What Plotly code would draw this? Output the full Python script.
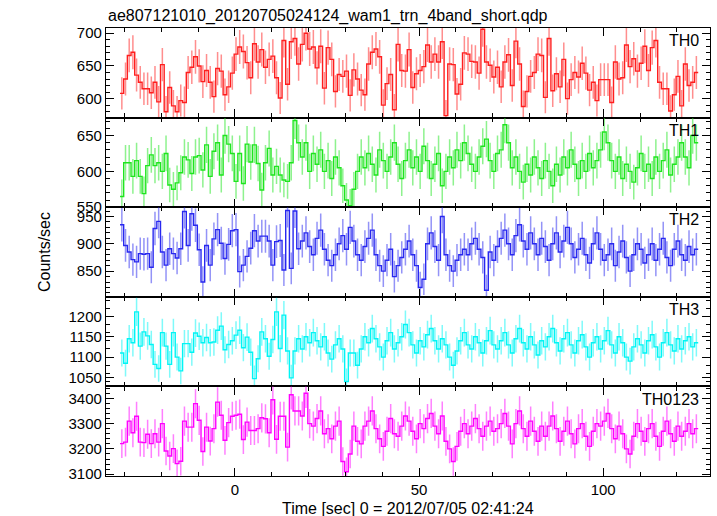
import numpy as np
import plotly.graph_objects as go
from plotly.subplots import make_subplots

title = "ae807121010_20120705024124_wam1_trn_4band_short.qdp"
x_title = "Time [sec] 0 = 2012/07/05 02:41:24"
y_title = "Counts/sec"
panel_names = ["TH0", "TH1", "TH2", "TH3", "TH0123"]

bin_start = -31.2   # left edge of first 1-s bin
bin_width = 1.0

th0 = [608, 630, 666, 671, 636, 625, 615, 615, 609, 625, 595, 652, 580, 617, 589, 580, 597, 594, 640, 648,
       664, 650, 626, 643, 625, 603, 646, 642, 606, 618, 639, 668, 679, 672, 655, 632, 684, 656, 675, 648,
       660, 665, 632, 601, 689, 622, 687, 692, 653,
       683, 700, 676, 679, 647, 680, 616, 678, 660, 611, 637, 634, 642, 605, 644, 630, 613, 606, 653, 671,
       676, 664, 590, 623, 637, 583, 683, 643, 642, 675, 617, 638, 643, 649, 682, 656, 668, 656, 687, 574,
       653, 652, 607, 622, 670, 668, 657, 656, 639, 706, 656, 651, 633, 648,
       618, 656, 667, 620, 688, 653, 588, 611, 634, 640, 668, 666, 602, 692, 612, 638, 618, 660, 600, 629,
       640, 633, 654, 639, 613, 625, 597, 629, 629, 629, 594, 656, 630, 632, 682, 649, 661, 642, 654, 680,
       643, 678, 689, 625, 615, 615, 581, 606, 634, 589, 653, 620, 625, 640]

th1 = [565, 612, 612, 593, 615, 593, 569, 608, 623, 608, 612, 600, 625, 581, 575, 584, 598, 620, 616, 597,
       620, 622, 602, 637, 593, 628, 640, 595, 650, 638, 625, 586, 625, 583, 638, 613, 637, 611, 574, 612,
       632, 595, 607, 595, 588, 586, 612, 671, 640,
       620, 640, 600, 625, 610, 630, 600, 615, 590, 620, 605, 580, 560, 552, 575, 600, 620,
       605, 625, 610, 595, 630, 615, 600, 620, 640, 610, 590, 615, 630, 605, 620, 600, 635, 615, 590, 610, 625,
       580, 600, 620, 605, 630, 615, 640, 625, 610, 600, 620, 635, 645, 615, 600, 625,
       630, 665, 640, 605, 620, 600, 585, 610, 595, 620, 605, 590, 615, 600, 580, 610,
       595, 620, 605, 630, 610, 590, 615, 600, 625, 605, 615, 630, 655, 640, 615, 600, 620, 590, 610, 600, 585,
       605, 625, 600, 610, 590, 620, 600, 615, 630, 595, 610, 620, 640, 620, 605, 650, 640]

th2 = [935, 897, 885, 871, 867, 882, 881, 882, 857, 928, 941, 885, 861, 891, 882, 874, 891, 959, 897, 955,
       934, 889, 830, 897, 861, 909, 926, 901, 873, 899, 924, 926, 849, 861, 877, 892, 924, 905, 914, 914,
       905, 861, 904, 906, 852, 961, 855, 960, 891,
       905, 920, 895, 880, 910, 925, 890, 870, 860, 880, 900, 915,
       890, 930, 905, 880, 870, 895, 910, 925, 880, 860, 850, 870, 890, 840, 860,
       875, 890, 905, 880, 860, 820, 835, 900, 920, 895, 870, 950,
       880, 860, 850, 870, 880, 890, 880, 900, 910, 890, 875, 815, 885, 870, 895,
       910, 925, 900, 880, 915, 935, 905, 890, 920, 900, 880, 910,
       895, 870, 900, 920, 885, 905, 930, 900, 875, 890, 910, 880, 865, 900, 920,
       890, 870, 880, 900, 860, 885, 905, 875, 850, 880, 900, 890,
       865, 880, 900, 870, 890, 910, 875, 860, 890, 905, 880, 870, 895, 880, 890]

th3 = [1110, 1085, 1145, 1135, 1211, 1127, 1162, 1152, 1131, 1082, 1072, 1160, 1127, 1082, 1160, 1100, 1066,
       1133, 1133, 1112, 1159, 1151, 1135, 1148, 1135, 1137, 1166, 1176, 1118, 1131, 1140, 1154, 1166, 1123,
       1149, 1112, 1047, 1096, 1162, 1145, 1102, 1143, 1211, 1121, 1203, 1115, 1049, 1115, 1145,
       1120, 1150, 1135, 1160, 1140, 1125, 1150, 1110, 1095, 1130, 1145, 1120,
       1040, 1110, 1110, 1080, 1120, 1150, 1135, 1170, 1145, 1125, 1100, 1140, 1160, 1120, 1135,
       1150, 1180, 1160, 1130, 1110, 1140, 1125, 1155, 1170, 1140, 1120, 1145,
       1130, 1100, 1080, 1115, 1140, 1160, 1130, 1120, 1150, 1135, 1110, 1140, 1165, 1130, 1120,
       1140, 1160, 1130, 1110, 1145, 1170, 1135, 1120, 1150, 1130, 1105, 1140,
       1125, 1150, 1170, 1135, 1115, 1145, 1160, 1130, 1110, 1140, 1155, 1125, 1100, 1135, 1150,
       1120, 1140, 1165, 1130, 1110, 1150, 1135, 1100, 1090, 1125, 1145, 1130,
       1110, 1140, 1155, 1125, 1100, 1135, 1160, 1130, 1115, 1145, 1120, 1140, 1150, 1125, 1135]

th0123 = [3221, 3227, 3310, 3264, 3329, 3227, 3225, 3258, 3221, 3260, 3227, 3300, 3192, 3172, 3201, 3142,
          3151, 3310, 3286, 3286, 3379, 3313, 3190, 3286, 3231, 3280, 3385, 3333, 3234, 3304, 3329, 3333,
          3337, 3237, 3306, 3273, 3273, 3280, 3323, 3319, 3264, 3394, 3238, 3329, 3329, 3207, 3414, 3350, 3350,
          3330, 3420, 3300, 3290, 3320, 3350, 3260, 3280, 3240, 3290, 3310, 3150,
          3110, 3180, 3290, 3230, 3220, 3290, 3310, 3350, 3280, 3240, 3210, 3270, 3320, 3260, 3250,
          3290, 3330, 3310, 3270, 3240, 3300, 3280, 3320, 3340, 3290, 3260, 3330,
          3230, 3200, 3150, 3210, 3270, 3300, 3260, 3290, 3320, 3280, 3250, 3290, 3310, 3270, 3280,
          3300, 3340, 3290, 3220, 3300, 3350, 3280, 3250, 3310, 3270, 3230, 3290,
          3250, 3290, 3330, 3280, 3230, 3270, 3310, 3260, 3220, 3280, 3300, 3250, 3210, 3270, 3300,
          3290, 3310, 3340, 3280, 3240, 3290, 3260, 3200, 3180, 3250, 3300, 3270,
          3230, 3280, 3300, 3250, 3210, 3270, 3310, 3260, 3230, 3290, 3250, 3270, 3300, 3260, 3280]

series = [th0, th1, th2, th3, th0123]
colors = ["rgb(255,30,30)", "rgb(30,230,30)", "rgb(40,40,240)", "rgb(0,245,245)", "rgb(255,0,255)"]
err_colors = ["rgba(255,30,30,0.5)", "rgba(30,230,30,0.5)", "rgba(40,40,240,0.5)",
              "rgba(0,245,245,0.5)", "rgba(255,0,255,0.5)"]
y_ranges = [[571, 708], [550, 675], [803, 967], [1028, 1248], [3093, 3447]]
y_dticks = [50, 50, 50, 50, 100]
y_minor = [10, 10, 10, 20, 20]
x_range = [-35, 129]

FONT = "Liberation Sans, Arial, Helvetica, sans-serif"

fig = make_subplots(rows=5, cols=1, shared_xaxes=True, vertical_spacing=0)

for i, vals in enumerate(series):
    vals = np.asarray(vals, dtype=float)
    n = len(vals)
    edges = bin_start + bin_width * np.arange(n + 1)
    centers = edges[:-1] + bin_width / 2
    errs = np.sqrt(vals)
    # error bars
    fig.add_trace(go.Scatter(
        x=centers, y=vals, mode="markers", marker=dict(size=0.1, color=colors[i], opacity=0),
        error_y=dict(type="data", array=errs, visible=True, color=err_colors[i], thickness=1.5, width=0),
        showlegend=False, hoverinfo="skip"), row=i + 1, col=1)
    # step histogram
    fig.add_trace(go.Scatter(
        x=edges, y=np.append(vals, vals[-1]), mode="lines", line=dict(color=colors[i], width=1.4, shape="hv"),
        showlegend=False), row=i + 1, col=1)
    fig.update_yaxes(range=y_ranges[i], dtick=y_dticks[i], row=i + 1, col=1,
                     minor=dict(dtick=y_minor[i], ticks="inside", ticklen=4, tickcolor="black"))
    fig.add_annotation(text=panel_names[i], xref="x domain", yref="y domain",
                       x=0.985, y=0.975, xanchor="right", yanchor="top", showarrow=False,
                       font=dict(family=FONT, size=16, color="black"), row=i + 1, col=1)

fig.update_xaxes(range=x_range, dtick=50, tick0=0, ticks="inside", ticklen=8, tickcolor="black",
                 showline=True, linecolor="black", linewidth=1.3, mirror="allticks",
                 showgrid=False, zeroline=False,
                 minor=dict(dtick=10, ticks="inside", ticklen=4, tickcolor="black"),
                 tickfont=dict(family=FONT, size=15, color="black"))
fig.update_yaxes(ticks="inside", ticklen=8, tickcolor="black",
                 showline=True, linecolor="black", linewidth=1.3, mirror="allticks",
                 showgrid=False, zeroline=False,
                 tickfont=dict(family=FONT, size=15, color="black"))

fig.add_annotation(text=x_title, xref="paper", yref="paper", x=0.5, y=0, xanchor="center", yanchor="top",
                   yshift=-22, showarrow=False, font=dict(family=FONT, size=16, color="black"))
fig.add_annotation(text=y_title, xref="paper", yref="paper", x=-0.12, y=0.5, textangle=-90,
                   showarrow=False, font=dict(family=FONT, size=16, color="black"))
fig.add_annotation(text=title, xref="paper", yref="paper", x=0.0, y=1.0, xanchor="left", yanchor="bottom",
                   yshift=1, showarrow=False, font=dict(family=FONT, size=16, color="black"))

fig.update_layout(width=717, height=516, margin=dict(l=106, r=7, t=28, b=40, autoexpand=False),
                  paper_bgcolor="white", plot_bgcolor="white", showlegend=False)

fig.write_html("out.html", config={"displayModeBar": False},
               post_script="document.body.style.margin='0px';document.body.style.overflow='hidden';")
